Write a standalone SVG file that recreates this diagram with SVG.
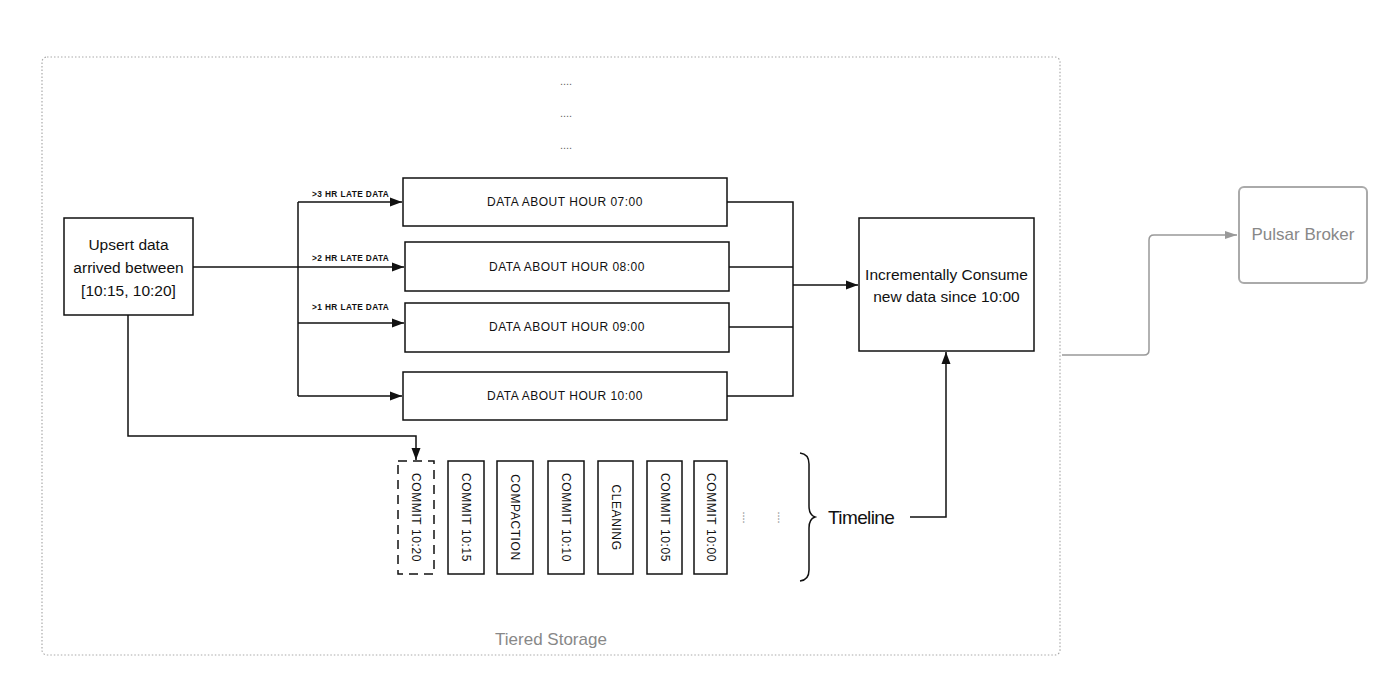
<svg xmlns="http://www.w3.org/2000/svg" width="1400" height="688" viewBox="0 0 1400 688">
<style>
.hand{font-family:"Liberation Sans",Arial,sans-serif;fill:#111}
.box{fill:#fff;stroke:#111;stroke-width:1.5}
.ln{fill:none;stroke:#111;stroke-width:1.5}
.gray{font-family:"Liberation Sans",Arial,sans-serif;fill:#888}
.cap{font-family:"Liberation Sans",Arial,sans-serif;font-size:12px;fill:#111;letter-spacing:0.5px}
.small{font-family:"Liberation Sans",Arial,sans-serif;font-size:8.3px;fill:#111;font-weight:bold;letter-spacing:0.4px}
.vert{font-family:"Liberation Sans",Arial,sans-serif;font-size:12px;fill:#111;letter-spacing:0.6px}
.dots{font-family:"Liberation Sans",Arial,sans-serif;font-size:11px;fill:#666}
</style>
<defs>
<marker id="ah" viewBox="0 0 12 10" refX="12" refY="5" markerWidth="12" markerHeight="10" markerUnits="userSpaceOnUse" orient="auto"><path d="M0,0.5 L12,5 L0,9.5 z" fill="#111"/></marker>
<marker id="ahg" viewBox="0 0 12 10" refX="12" refY="5" markerWidth="12" markerHeight="10" markerUnits="userSpaceOnUse" orient="auto"><path d="M0,1 L12,5 L0,9 z" fill="#999"/></marker>
</defs>
<rect width="1400" height="688" fill="#fff"/>
<g id="tiered-storage">
<rect x="42" y="57" width="1018" height="598" rx="5" fill="none" stroke="#aaa" stroke-width="1.2" stroke-dasharray="1.5,2"/>
<text class="gray" x="551" y="645" font-size="17" text-anchor="middle">Tiered Storage</text>
<text class="dots" x="566" y="85" text-anchor="middle">....</text>
<text class="dots" x="566" y="117" text-anchor="middle">....</text>
<text class="dots" x="566" y="149" text-anchor="middle">....</text>
</g>
<g id="connectors">
<path class="ln" d="M193,267 H298"/>
<path class="ln" d="M298,202 V396"/>
<path class="ln" d="M298,202 H402" marker-end="url(#ah)"/>
<path class="ln" d="M298,267 H404" marker-end="url(#ah)"/>
<path class="ln" d="M298,323 H404" marker-end="url(#ah)"/>
<path class="ln" d="M298,396 H402" marker-end="url(#ah)"/>
<path class="ln" d="M727,202 H793 V396 H727"/>
<path class="ln" d="M729,267 H793"/>
<path class="ln" d="M729,327 H793"/>
<path class="ln" d="M793,285 H858" marker-end="url(#ah)"/>
<path class="ln" d="M128,315 V436 H416 V460" marker-end="url(#ah)"/>
<path class="ln" d="M910,517 H946 V352" marker-end="url(#ah)"/>
<path d="M1062,355 H1144 Q1149,355 1149,350 V240 Q1149,235 1154,235 H1237" fill="none" stroke="#999" stroke-width="1.5" marker-end="url(#ahg)"/>
</g>
<g id="upsert">
<rect class="box" x="64" y="218" width="129" height="97"/>
<text class="hand" x="128.5" y="250" font-size="15.5" text-anchor="middle">Upsert data</text>
<text class="hand" x="128.5" y="273" font-size="15.5" text-anchor="middle">arrived between</text>
<text class="hand" x="128.5" y="296" font-size="15.5" text-anchor="middle">[10:15, 10:20]</text>
</g>
<g id="labels">
<text class="small" x="312" y="197">&gt;3 HR LATE DATA</text>
<text class="small" x="312" y="261">&gt;2 HR LATE DATA</text>
<text class="small" x="312" y="310">&gt;1 HR LATE DATA</text>
</g>
<g id="hour07">
<rect class="box" x="403" y="178" width="324" height="48"/>
<text class="cap" x="565" y="206" text-anchor="middle">DATA ABOUT HOUR 07:00</text>
</g>
<g id="hour08">
<rect class="box" x="405" y="242" width="324" height="49"/>
<text class="cap" x="567" y="271" text-anchor="middle">DATA ABOUT HOUR 08:00</text>
</g>
<g id="hour09">
<rect class="box" x="405" y="303" width="324" height="49"/>
<text class="cap" x="567" y="331" text-anchor="middle">DATA ABOUT HOUR 09:00</text>
</g>
<g id="hour10">
<rect class="box" x="403" y="372" width="324" height="48"/>
<text class="cap" x="565" y="400" text-anchor="middle">DATA ABOUT HOUR 10:00</text>
</g>
<g id="consume">
<rect class="box" x="859" y="218" width="175" height="133"/>
<text class="hand" x="946.5" y="280" font-size="15.5" text-anchor="middle">Incrementally Consume</text>
<text class="hand" x="946.5" y="302" font-size="15.5" text-anchor="middle">new data since 10:00</text>
</g>
<g id="commit1020">
<rect x="398" y="461" width="36" height="113" fill="#fff" stroke="#111" stroke-width="1.5" stroke-dasharray="9,6"/>
<text class="vert" transform="translate(416,517.5) rotate(90)" text-anchor="middle" dy="4">COMMIT 10:20</text>
</g>
<g id="commit1015">
<rect class="box" x="448" y="461" width="36" height="113"/>
<text class="vert" transform="translate(466,517.5) rotate(90)" text-anchor="middle" dy="4">COMMIT 10:15</text>
</g>
<g id="compaction">
<rect class="box" x="497" y="461" width="36" height="113"/>
<text class="vert" transform="translate(515,517.5) rotate(90)" text-anchor="middle" dy="4">COMPACTION</text>
</g>
<g id="commit1010">
<rect class="box" x="548" y="461" width="36" height="113"/>
<text class="vert" transform="translate(566,517.5) rotate(90)" text-anchor="middle" dy="4">COMMIT 10:10</text>
</g>
<g id="cleaning">
<rect class="box" x="598" y="461" width="35" height="113"/>
<text class="vert" transform="translate(615.5,517.5) rotate(90)" text-anchor="middle" dy="4">CLEANING</text>
</g>
<g id="commit1005">
<rect class="box" x="647" y="461" width="35" height="113"/>
<text class="vert" transform="translate(664.5,517.5) rotate(90)" text-anchor="middle" dy="4">COMMIT 10:05</text>
</g>
<g id="commit1000">
<rect class="box" x="694" y="461" width="33" height="113"/>
<text class="vert" transform="translate(710.5,517.5) rotate(90)" text-anchor="middle" dy="4">COMMIT 10:00</text>
</g>
<g id="timeline">
<text class="dots" transform="translate(746,517.5) rotate(90)" text-anchor="middle" dy="3">....</text>
<text class="dots" transform="translate(781,517.5) rotate(90)" text-anchor="middle" dy="3">....</text>
<path class="ln" d="M800,453 Q809,454 809,464 V506 Q809,515 815,517 Q809,519 809,528 V570 Q809,580 800,581"/>
<text class="hand" x="828" y="524" font-size="19" letter-spacing="-0.6">Timeline</text>
</g>
<g id="pulsar-broker">
<rect x="1239" y="187" width="128" height="96" rx="5" fill="#fff" stroke="#aaa" stroke-width="2"/>
<text class="gray" x="1303" y="240" font-size="17" text-anchor="middle">Pulsar Broker</text>
</g>
</svg>
